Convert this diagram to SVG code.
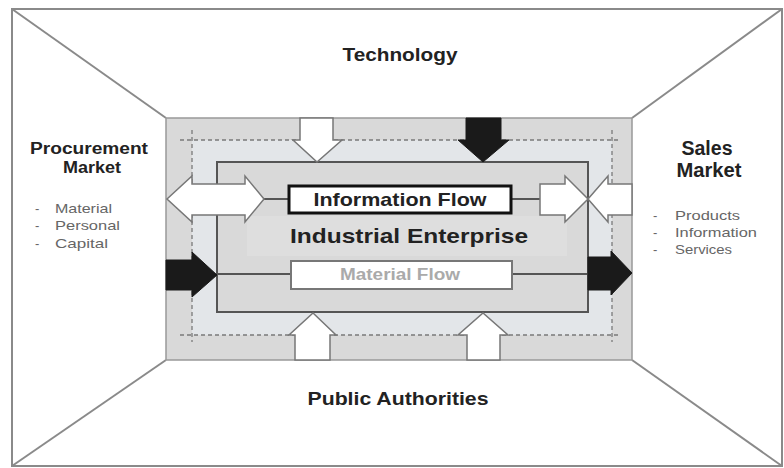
<svg xmlns="http://www.w3.org/2000/svg" width="784" height="468" viewBox="0 0 784 468">
<defs>
<style>
.frame{fill:none;stroke:#8a8a8a;stroke-width:2}
.dash{fill:none;stroke:#7a7a7a;stroke-width:1.3;stroke-dasharray:4 3}
.warr{fill:#ffffff;stroke:#777;stroke-width:1.5;stroke-linejoin:miter}
.barr{fill:#1a1a1a;stroke:#1a1a1a;stroke-width:1}
.conn{stroke:#555;stroke-width:2;fill:none}
.h{font-family:"Liberation Sans",Arial,sans-serif;font-weight:bold;fill:#222}
.l{font-family:"Liberation Sans",Arial,sans-serif;fill:#666;font-size:13px}
</style>
</defs>
<rect width="784" height="468" fill="#ffffff"/>
<g id="frame">
<rect x="12" y="9" width="770" height="457" class="frame"/>
<line x1="12" y1="9" x2="166" y2="118" class="frame"/>
<line x1="782" y1="9" x2="632" y2="118" class="frame"/>
<line x1="12" y1="466" x2="166" y2="360" class="frame"/>
<line x1="782" y1="466" x2="632" y2="360" class="frame"/>
</g>
<g id="environment">
<rect x="166" y="118" width="466" height="242" fill="#d9d9d9" stroke="#999" stroke-width="1.5"/>
<rect x="192" y="140" width="420" height="195" fill="#e3e6e9"/>
<line x1="180" y1="140" x2="620" y2="140" class="dash"/>
<line x1="180" y1="335" x2="620" y2="335" class="dash"/>
<line x1="192" y1="130" x2="192" y2="342" class="dash"/>
<line x1="612" y1="130" x2="612" y2="342" class="dash"/>
</g>
<g id="enterprise">
<rect x="217" y="162" width="371" height="150" fill="#d9d9d9" stroke="#555" stroke-width="2"/>
<rect x="247" y="216" width="320" height="40" fill="#dedede"/>
<text x="409" y="243" class="h" font-size="21" text-anchor="middle" textLength="238" lengthAdjust="spacingAndGlyphs">Industrial  Enterprise</text>
</g>
<g id="connectors">
<line x1="264" y1="199" x2="289" y2="199" class="conn"/>
<line x1="511" y1="199" x2="540" y2="199" class="conn"/>
<line x1="217" y1="274" x2="291" y2="274" class="conn"/>
<line x1="512" y1="274" x2="588" y2="274" class="conn"/>
<polygon class="warr" points="167,199 192,176 192,184 245,184 245,176 264,199 245,222 245,215 192,215 192,222"/>
<polygon class="warr" points="540,184 565,184 565,176 588,199 565,222 565,215 540,215"/>
<polygon class="warr" points="632,184 608,184 608,176 588,199 608,222 608,215 632,215"/>
<polygon class="barr" points="166,260 192,260 192,252 217,275 192,297 192,290 166,290"/>
<polygon class="barr" points="588,257 611,257 611,251 632,273 611,295 611,290 588,290"/>
<polygon class="warr" points="300,118 333,118 333,140 342,140 317,162 293,140 300,140"/>
<polygon class="barr" points="466,118 501,118 501,140 509,140 483,162 458,140 466,140"/>
<polygon class="warr" points="295,360 330,360 330,335 336,335 313,313 289,335 295,335"/>
<polygon class="warr" points="467,360 500,360 500,335 508,335 483,313 458,335 467,335"/>
</g>
<g id="information-flow">
<rect x="289" y="186" width="222" height="27" fill="#ffffff" stroke="#111" stroke-width="3"/>
<text x="400" y="206" class="h" font-size="19" text-anchor="middle" textLength="173" lengthAdjust="spacingAndGlyphs">Information Flow</text>
</g>
<g id="material-flow">
<rect x="291" y="261" width="221" height="28" fill="#ffffff" stroke="#777" stroke-width="2"/>
<text x="400" y="280" font-family="Liberation Sans,Arial,sans-serif" font-weight="bold" font-size="16" fill="#aaa" text-anchor="middle" textLength="120" lengthAdjust="spacingAndGlyphs">Material Flow</text>
</g>
<g id="technology">
<text x="400" y="61" class="h" font-size="19" text-anchor="middle" textLength="115" lengthAdjust="spacingAndGlyphs">Technology</text>
</g>
<g id="public-authorities">
<text x="398" y="405" class="h" font-size="19" text-anchor="middle" textLength="181" lengthAdjust="spacingAndGlyphs">Public Authorities</text>
</g>
<g id="procurement-market">
<text x="89" y="154" class="h" font-size="16" text-anchor="middle" textLength="118" lengthAdjust="spacingAndGlyphs">Procurement</text>
<text x="92" y="173" class="h" font-size="16" text-anchor="middle" textLength="58" lengthAdjust="spacingAndGlyphs">Market</text>
<text x="35" y="213" class="l">-</text><text x="55" y="213" class="l" textLength="57" lengthAdjust="spacingAndGlyphs">Material</text>
<text x="35" y="230" class="l">-</text><text x="55" y="230" class="l" textLength="65" lengthAdjust="spacingAndGlyphs">Personal</text>
<text x="35" y="248" class="l">-</text><text x="55" y="248" class="l" textLength="53" lengthAdjust="spacingAndGlyphs">Capital</text>
</g>
<g id="sales-market">
<text x="707" y="155" class="h" font-size="20" text-anchor="middle" textLength="51" lengthAdjust="spacingAndGlyphs">Sales</text>
<text x="709" y="177" class="h" font-size="20" text-anchor="middle" textLength="65" lengthAdjust="spacingAndGlyphs">Market</text>
<text x="653" y="220" class="l">-</text><text x="675" y="220" class="l" textLength="65" lengthAdjust="spacingAndGlyphs">Products</text>
<text x="653" y="237" class="l">-</text><text x="675" y="237" class="l" textLength="82" lengthAdjust="spacingAndGlyphs">Information</text>
<text x="653" y="254" class="l">-</text><text x="675" y="254" class="l" textLength="57" lengthAdjust="spacingAndGlyphs">Services</text>
</g>
</svg>
